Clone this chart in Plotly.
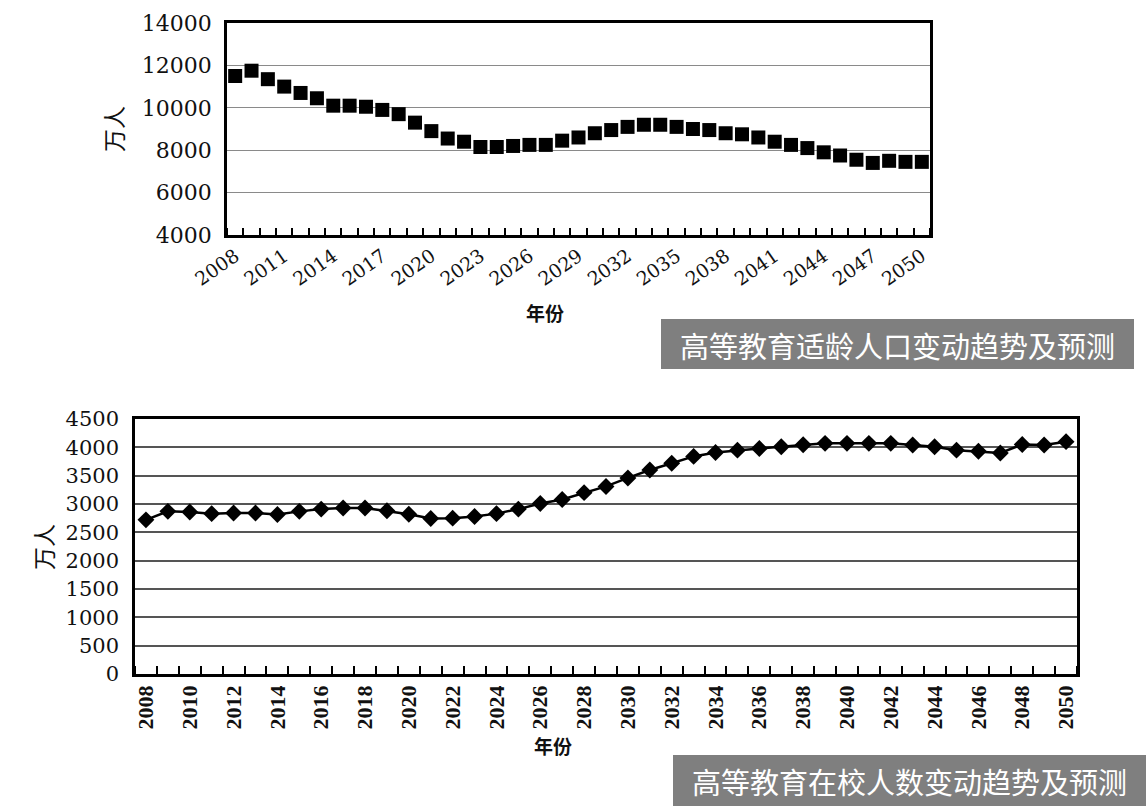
import plotly.graph_objects as go

W, H = 1146, 806

years = list(range(2008, 2051))
age_pop = [11500, 11750, 11350, 11000, 10700, 10450, 10100, 10100, 10050, 9900,
           9700, 9300, 8900, 8550, 8400, 8150, 8150, 8200, 8250, 8250,
           8450, 8600, 8800, 8950, 9100, 9200, 9200, 9100, 9000, 8950,
           8800, 8750, 8600, 8400, 8250, 8100, 7900, 7750, 7550, 7400,
           7500, 7450, 7450]
enrolled = [2720, 2870, 2860, 2830, 2840, 2840, 2815, 2870, 2910, 2930,
            2930, 2880, 2820, 2745, 2750, 2780, 2830, 2910, 3010, 3080,
            3200, 3310, 3460, 3600, 3720, 3840, 3910, 3950, 3980, 4010,
            4045, 4070, 4070, 4070, 4070, 4040, 4010, 3950, 3930, 3900,
            4050, 4040, 4100]
top_ticks = years[::3]
bot_ticks = years[::2]
top_yticks = [4000, 6000, 8000, 10000, 12000, 14000]
bot_yticks = [0, 500, 1000, 1500, 2000, 2500, 3000, 3500, 4000, 4500]
top_title = "高等教育适龄人口变动趋势及预测"
bot_title = "高等教育在校人数变动趋势及预测"
y_title = "万人"
x_title = "年份"

serif = "DejaVu Serif"
cjk = "Noto Sans CJK SC"

def px_x(p):
    return p / W

def px_y(p):
    return 1 - p / H

boundaries = [y - 0.5 for y in years] + [years[-1] + 0.5]

fig = go.Figure()
fig.add_trace(go.Scatter(x=years, y=age_pop, mode="markers",
                         marker=dict(symbol="square", size=14, color="black"),
                         xaxis="x", yaxis="y", showlegend=False, cliponaxis=False))
fig.add_trace(go.Scatter(x=years, y=enrolled, mode="lines+markers",
                         line=dict(color="black", width=2.5),
                         marker=dict(symbol="diamond", size=13, color="black"),
                         xaxis="x2", yaxis="y2", showlegend=False, cliponaxis=False))

common_x = dict(showgrid=False, zeroline=False, showline=True, mirror=True,
                linecolor="black", ticks="", range=[years[0] - 0.5, years[-1] + 0.5],
                tickmode="array", automargin=False)

fig.update_layout(
    width=W, height=H, margin=dict(l=0, r=0, t=0, b=0, autoexpand=False),
    paper_bgcolor="white", plot_bgcolor="white",
    xaxis=dict(**common_x, domain=[px_x(227), px_x(930)], anchor="y",
               linewidth=2.5, tickvals=top_ticks, ticktext=[str(t) for t in top_ticks],
               tickangle=-35, tickfont=dict(family=serif, size=19, color="#111"),
               minor=dict(tickmode="array", tickvals=boundaries, ticks="inside",
                          ticklen=7, tickcolor="black", tickwidth=1.5, showgrid=False)),
    yaxis=dict(domain=[px_y(235), px_y(23)], anchor="x", range=[4000, 14000],
               tickvals=top_yticks, ticktext=[str(v) for v in top_yticks], tickmode="array",
               showgrid=True, gridcolor="#8a8a8a", gridwidth=1.3, zeroline=False,
               showline=True, mirror=True, linecolor="black", linewidth=2.5,
               ticks="", ticklabelstandoff=8, automargin=False,
               tickfont=dict(family=serif, size=22, color="#111")),
    xaxis2=dict(**common_x, domain=[px_x(135), px_x(1077)], anchor="y2",
                linewidth=2.5, tickvals=bot_ticks, ticktext=[str(t) for t in bot_ticks],
                tickangle=-90, tickfont=dict(family="Liberation Serif", size=22, color="#111",
                                             weight="bold"),
                minor=dict(tickmode="array", tickvals=boundaries, ticks="inside",
                           ticklen=8, tickcolor="black", tickwidth=1.5, showgrid=False)),
    yaxis2=dict(domain=[px_y(674), px_y(419)], anchor="x2", range=[0, 4500],
                tickvals=bot_yticks, ticktext=[str(v) for v in bot_yticks], tickmode="array",
                showgrid=True, gridcolor="#555", gridwidth=1.6, zeroline=False,
                showline=True, mirror=True, linecolor="black", linewidth=2.5,
                ticks="", ticklabelstandoff=9, automargin=False,
                tickfont=dict(family=serif, size=21, color="#111")),
)

def label(text, cx, cy, size, color="#111", angle=0, weight="normal"):
    return dict(text=text, x=px_x(cx), y=px_y(cy), xref="paper", yref="paper",
                xanchor="center", yanchor="middle", textangle=angle, showarrow=False,
                font=dict(family=cjk, size=size, color=color, weight=weight))

ann = [
    label(y_title, 113, 129, 23, angle=-90),
    label(x_title, 545, 312, 19, weight="bold"),
    label(y_title, 43, 547, 23, angle=-90),
    label(x_title, 553, 745, 19, weight="bold"),
    label(top_title, 897, 345, 29, color="white"),
    label(bot_title, 909, 781, 29, color="white"),
]
fig.update_layout(annotations=ann)

fig.update_layout(shapes=[
    dict(type="rect", xref="paper", yref="paper", x0=px_x(661), x1=px_x(1134),
         y0=px_y(369), y1=px_y(319), fillcolor="#7f7f7f", line=dict(width=0), layer="below"),
    dict(type="rect", xref="paper", yref="paper", x0=px_x(673), x1=px_x(1146),
         y0=px_y(806), y1=px_y(755), fillcolor="#7f7f7f", line=dict(width=0), layer="below"),
])

fig.write_html("out.html")
